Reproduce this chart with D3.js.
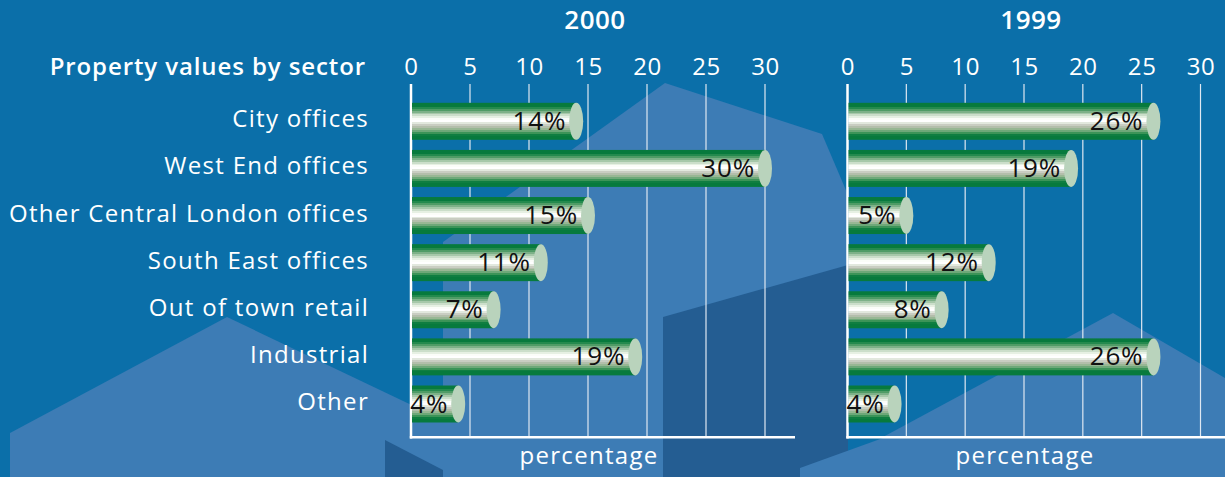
<!DOCTYPE html>
<html>
<head>
<meta charset="utf-8">
<script src="https://cdn.jsdelivr.net/npm/d3@7"></script>
<style>
  body { margin: 0; background: #0b6fa9; }
  svg { display: block; font-family: "Open Sans", sans-serif; }
</style>
</head>
<body>
<svg width="1225" height="477"></svg>
<script>
// Data
var categories = ["City offices", "West End offices", "Other Central London offices",
  "South East offices", "Out of town retail", "Industrial", "Other"];
var values2000 = [14, 30, 15, 11, 7, 19, 4];
var values1999 = [26, 19, 5, 12, 8, 26, 4];
var years = ["2000", "1999"];
var tickValues = [0, 5, 10, 15, 20, 25, 30];

var svg = d3.select("svg"),
    width = +svg.attr("width"),
    height = +svg.attr("height");

// Background with the faint house shapes
svg.append("rect").attr("width", width).attr("height", height).attr("fill", "#0b6fa9");
var shapes = [
  { fill: "#3d7cb5", pts: [[443,477],[443,242],[665,83],[822,134],[848,195],[848,477]] },
  { fill: "#245d92", pts: [[663,477],[663,317],[848,265],[848,477]] },
  { fill: "#3d7cb5", pts: [[10,477],[10,433],[227,317],[443,420],[443,477]] },
  { fill: "#245d92", pts: [[385,440],[443,470],[443,477],[385,477]] },
  { fill: "#3d7cb5", pts: [[883,477],[883,437],[1113,313],[1225,378],[1225,477]] },
  { fill: "#3d7cb5", pts: [[800,477],[800,468],[883,438],[883,477]] }
];
svg.append("g").selectAll("path")
  .data(shapes)
  .enter().append("path")
  .attr("d", function(d) { return "M" + d.pts.join("L") + "Z"; })
  .attr("fill", function(d) { return d.fill; });

// Banded cylinder gradient
var bands = ["#077a3d", "#077a3d", "#248a4e", "#4f9c66", "#7db188", "#a6c8a9", "#cbdeca",
  "#e6f0e3", "#fbfdf9", "#ffffff", "#e2e8de", "#c9cdc2", "#b3beab", "#98b794",
  "#6ea879", "#3c9458", "#0f7e41", "#077a3d", "#077a3d"];
var grad = svg.append("defs").append("linearGradient")
  .attr("id", "cyl").attr("x1", 0).attr("y1", 0).attr("x2", 0).attr("y2", 1);
bands.forEach(function(c, i) {
  grad.append("stop").attr("offset", i / bands.length).attr("stop-color", c);
  grad.append("stop").attr("offset", (i + 1) / bands.length).attr("stop-color", c);
});

// Row positions
var y = d3.scalePoint()
  .domain(categories)
  .range([121.3, 404]);
var barH = 37;

// Category labels
svg.append("text")
  .attr("x", 366).attr("y", 75)
  .attr("text-anchor", "end")
  .attr("fill", "#fff")
  .attr("font-weight", 600)
  .attr("font-size", 24)
  .attr("letter-spacing", 0.9)
  .text("Property values by sector");

svg.append("g").selectAll("text")
  .data(categories)
  .enter().append("text")
  .attr("x", 369)
  .attr("y", function(d) { return y(d) + 6; })
  .attr("text-anchor", "end")
  .attr("fill", "#fff")
  .attr("font-size", 24)
  .attr("letter-spacing", 1.3)
  .text(function(d) { return d; });

var panels = [
  { year: years[0], values: values2000, r0: 411, r1: 765, axisEnd: 795 },
  { year: years[1], values: values1999, r0: 847.5, r1: 1200.5, axisEnd: 1230 }
];

panels.forEach(function(p) {
  var x = d3.scaleLinear().domain([0, 30]).range([p.r0, p.r1]);
  var g = svg.append("g");

  // year title
  g.append("text")
    .attr("x", x(15) + 7).attr("y", 29)
    .attr("text-anchor", "middle")
    .attr("fill", "#fff")
    .attr("font-weight", 600)
    .attr("font-size", 26)
    .attr("letter-spacing", 0.5)
    .text(p.year);

  // top tick labels
  var axis = g.append("g")
    .attr("transform", "translate(0,75)")
    .call(d3.axisTop(x).tickValues(tickValues).tickSize(0).tickPadding(0));
  axis.select(".domain").remove();
  axis.selectAll("text")
    .attr("fill", "#fff")
    .attr("font-size", 24)
    .attr("font-family", "Open Sans, sans-serif")
    .attr("letter-spacing", 0.6)
    .attr("dy", 0);

  // gridlines
  g.append("g").selectAll("line")
    .data(tickValues.slice(1))
    .enter().append("line")
    .attr("x1", function(d) { return x(d); })
    .attr("x2", function(d) { return x(d); })
    .attr("y1", 84).attr("y2", 437)
    .attr("stroke", "#dfe8f2")
    .attr("stroke-width", 1.2);

  // axis lines
  g.append("line")
    .attr("x1", x(0)).attr("x2", x(0))
    .attr("y1", 84).attr("y2", 438.5)
    .attr("stroke", "#fff").attr("stroke-width", 2.5);
  g.append("line")
    .attr("x1", x(0) - 1.2).attr("x2", p.axisEnd)
    .attr("y1", 437.3).attr("y2", 437.3)
    .attr("stroke", "#fff").attr("stroke-width", 2.5);

  // bars
  var rows = categories.map(function(c, i) { return { cat: c, v: p.values[i] }; });
  var bar = g.append("g").selectAll("g")
    .data(rows)
    .enter().append("g");

  bar.append("rect")
    .attr("x", x(0) + 1)
    .attr("y", function(d) { return y(d.cat) - barH / 2; })
    .attr("width", function(d) { return x(d.v) - x(0) - 1; })
    .attr("height", barH)
    .attr("fill", "url(#cyl)");

  bar.append("ellipse")
    .attr("cx", function(d) { return x(d.v); })
    .attr("cy", function(d) { return y(d.cat); })
    .attr("rx", 7)
    .attr("ry", barH / 2)
    .attr("fill", "#b9d3bc");

  bar.append("text")
    .attr("x", function(d) { return x(d.v) - 10; })
    .attr("y", function(d) { return y(d.cat) + 8.5; })
    .attr("text-anchor", "end")
    .attr("fill", "#111")
    .attr("font-size", 26)
    .attr("letter-spacing", 0.8)
    .text(function(d) { return d.v + "%"; });

  // axis title
  g.append("text")
    .attr("x", x(15) + 1).attr("y", 464)
    .attr("text-anchor", "middle")
    .attr("fill", "#fff")
    .attr("font-size", 24)
    .attr("letter-spacing", 1.3)
    .text("percentage");
});
</script>
</body>
</html>
